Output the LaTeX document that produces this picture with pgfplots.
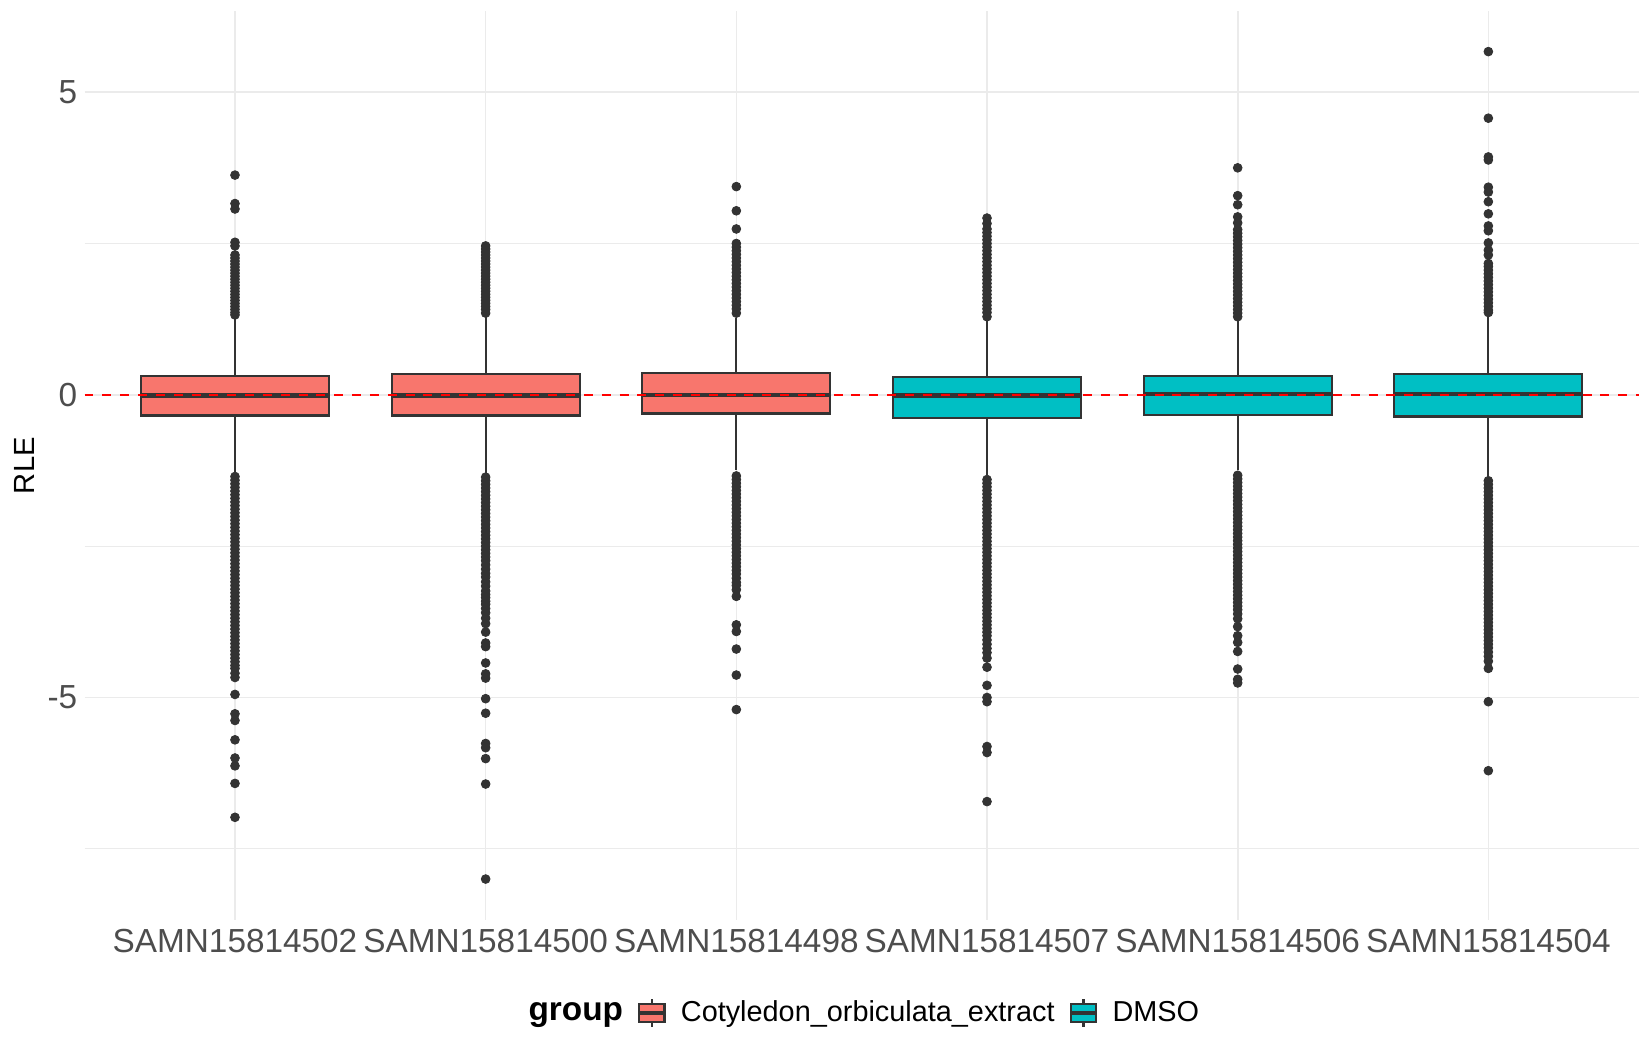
\documentclass[border=0pt]{standalone}
\usepackage{pgfplots}
\pgfplotsset{compat=1.18}
\usepgfplotslibrary{statistics}
\usepackage{fontspec}
\setmainfont{Liberation Sans}
\definecolor{cA}{HTML}{F8766D}
\definecolor{cB}{HTML}{00BFC4}
\definecolor{c33}{HTML}{333333}
\definecolor{cgrid}{HTML}{EBEBEB}
\definecolor{ctick}{HTML}{4D4D4D}
\newcommand\tickfont{\fontsize{16}{19}\selectfont}
\newcommand\legfont{\fontsize{13.85}{17}\selectfont}
\begin{document}
\begin{tikzpicture}
\begin{axis}[
  scale only axis,
  width=746pt, height=436.4pt,
  xmin=0.4, xmax=6.6, ymin=-8.68, ymax=6.34,
  axis line style={draw=none},
  major tick length=0pt, minor tick length=0pt,
  xtick={1,2,3,4,5,6},
  xticklabels={SAMN15814502,SAMN15814500,SAMN15814498,SAMN15814507,SAMN15814506,SAMN15814504},
  ytick={-5,0,5},
  yticklabels={-5,0,5},
  minor ytick={-7.5,-2.5,2.5},
  xmajorgrids, ymajorgrids, yminorgrids,
  major grid style={draw=cgrid, line width=0.8pt},
  minor grid style={draw=cgrid, line width=0.45pt},
  ticklabel style={font=\tickfont, text=ctick},
  xticklabel style={yshift=-1pt},
  ylabel={RLE},
  every axis y label/.style={at={(axis description cs:0,0.5)}, rotate=90, anchor=center, yshift=28.7pt, font=\fontsize{14}{17}\selectfont},
  boxplot/draw direction=y,
  boxplot/box extend=0.75,
  boxplot/whisker extend=0,
  boxplot/every median/.style={line width=2.14pt},
  legend columns=3,
  legend style={draw=none, fill=none, at={(0.5,0)}, anchor=center, xshift=-1.5pt, yshift=-44.5pt, font=\legfont,
    /tikz/every odd column/.append style={column sep=5.1pt},
    /tikz/every even column/.append style={column sep=4.9pt}},
  legend cell align=left,
]
% boxes
\addplot[forget plot, fill=cA, draw=c33, line width=1.07pt, solid, boxplot prepared={draw position=1, lower whisker=-1.27, lower quartile=-0.34, median=-0.01, upper quartile=0.31, upper whisker=1.28}] coordinates {};
\addplot[forget plot, fill=cA, draw=c33, line width=1.07pt, solid, boxplot prepared={draw position=2, lower whisker=-1.29, lower quartile=-0.34, median=-0.01, upper quartile=0.34, upper whisker=1.28}] coordinates {};
\addplot[forget plot, fill=cA, draw=c33, line width=1.07pt, solid, boxplot prepared={draw position=3, lower whisker=-1.25, lower quartile=-0.31, median=0.00, upper quartile=0.36, upper whisker=1.27}] coordinates {};
\addplot[forget plot, fill=cB, draw=c33, line width=1.07pt, solid, boxplot prepared={draw position=4, lower whisker=-1.32, lower quartile=-0.38, median=-0.01, upper quartile=0.30, upper whisker=1.23}] coordinates {};
\addplot[forget plot, fill=cB, draw=c33, line width=1.07pt, solid, boxplot prepared={draw position=5, lower whisker=-1.24, lower quartile=-0.33, median=0.01, upper quartile=0.31, upper whisker=1.22}] coordinates {};
\addplot[forget plot, fill=cB, draw=c33, line width=1.07pt, solid, boxplot prepared={draw position=6, lower whisker=-1.35, lower quartile=-0.36, median=0.01, upper quartile=0.35, upper whisker=1.30}] coordinates {};
% outliers
\pgfplotsset{outl/.style={forget plot, only marks, mark=*, mark size=2.1pt, draw=c33, fill=c33, mark options={fill=c33, draw=c33, line width=0.4pt}}}
\addplot[outl] coordinates {
(1,3.63)(1,3.16)(1,3.07)(1,2.52)(1,2.46)(1,2.31)(1,2.26)(1,2.21)(1,2.16)(1,2.11)(1,2.06)(1,2.01)(1,1.96)(1,1.91)(1,1.86)(1,1.81)(1,1.76)(1,1.71)(1,1.66)(1,1.61)(1,1.56)(1,1.51)(1,1.46)(1,1.41)(1,1.36)(1,1.32)
(1,-1.35)(1,-1.41)(1,-1.47)(1,-1.53)(1,-1.59)(1,-1.65)(1,-1.71)(1,-1.77)(1,-1.83)(1,-1.89)(1,-1.95)(1,-2.01)(1,-2.07)(1,-2.13)(1,-2.19)(1,-2.25)(1,-2.31)(1,-2.37)(1,-2.43)(1,-2.49)(1,-2.55)(1,-2.61)(1,-2.67)(1,-2.73)(1,-2.79)(1,-2.85)(1,-2.91)(1,-2.97)(1,-3.03)(1,-3.09)(1,-3.15)(1,-3.21)(1,-3.27)(1,-3.33)(1,-3.39)(1,-3.45)(1,-3.51)(1,-3.57)(1,-3.63)(1,-3.69)(1,-3.75)(1,-3.81)(1,-3.87)(1,-3.93)(1,-3.99)(1,-4.05)(1,-4.11)(1,-4.17)(1,-4.23)(1,-4.29)(1,-4.35)(1,-4.41)(1,-4.47)(1,-4.52)
(1,-4.60)(1,-4.67)(1,-4.95)(1,-5.27)(1,-5.38)(1,-5.70)(1,-6.00)(1,-6.13)(1,-6.42)(1,-6.98)
};
\addplot[outl] coordinates {
(2,2.46)(2,2.41)(2,2.36)(2,2.31)(2,2.26)(2,2.21)(2,2.16)(2,2.11)(2,2.06)(2,2.01)(2,1.96)(2,1.91)(2,1.86)(2,1.81)(2,1.76)(2,1.71)(2,1.66)(2,1.61)(2,1.56)(2,1.51)(2,1.46)(2,1.41)(2,1.35)
(2,-1.36)(2,-1.42)(2,-1.48)(2,-1.54)(2,-1.60)(2,-1.66)(2,-1.72)(2,-1.78)(2,-1.84)(2,-1.90)(2,-1.96)(2,-2.02)(2,-2.08)(2,-2.14)(2,-2.20)(2,-2.26)(2,-2.32)(2,-2.38)(2,-2.44)(2,-2.50)(2,-2.56)(2,-2.62)
(2,-2.68)(2,-2.74)(2,-2.81)(2,-2.88)(2,-2.95)(2,-3.01)(2,-3.09)(2,-3.16)(2,-3.24)(2,-3.30)(2,-3.35)(2,-3.41)(2,-3.46)(2,-3.53)(2,-3.60)(2,-3.69)(2,-3.78)(2,-3.92)(2,-4.10)(2,-4.16)(2,-4.43)(2,-4.61)(2,-4.68)(2,-5.02)(2,-5.26)(2,-5.76)(2,-5.83)(2,-6.01)(2,-6.43)(2,-8.00)
};
\addplot[outl] coordinates {
(3,3.44)(3,3.04)(3,2.74)(3,2.50)(3,2.44)(3,2.38)(3,2.32)(3,2.26)(3,2.20)(3,2.14)(3,2.08)(3,2.02)(3,1.96)(3,1.90)(3,1.84)(3,1.78)(3,1.72)(3,1.66)(3,1.60)(3,1.54)(3,1.48)(3,1.42)(3,1.35)
(3,-1.34)(3,-1.40)(3,-1.46)(3,-1.52)(3,-1.58)(3,-1.64)(3,-1.70)(3,-1.76)(3,-1.82)(3,-1.88)(3,-1.94)(3,-2.00)(3,-2.06)(3,-2.12)(3,-2.18)(3,-2.24)(3,-2.30)(3,-2.36)(3,-2.42)(3,-2.48)(3,-2.54)(3,-2.60)(3,-2.66)(3,-2.72)(3,-2.78)(3,-2.84)(3,-2.90)(3,-2.96)(3,-3.03)
(3,-3.10)(3,-3.15)(3,-3.22)(3,-3.33)(3,-3.80)(3,-3.91)(3,-4.20)(3,-4.63)(3,-5.20)
};
\addplot[outl] coordinates {
(4,2.92)(4,2.83)(4,2.74)(4,2.68)(4,2.62)(4,2.56)(4,2.50)(4,2.44)(4,2.38)(4,2.32)(4,2.26)(4,2.20)(4,2.14)(4,2.08)(4,2.02)(4,1.96)(4,1.90)(4,1.84)(4,1.78)(4,1.72)(4,1.66)(4,1.60)(4,1.54)(4,1.48)(4,1.42)(4,1.36)(4,1.29)
(4,-1.40)(4,-1.46)(4,-1.52)(4,-1.58)(4,-1.64)(4,-1.70)(4,-1.76)(4,-1.82)(4,-1.88)(4,-1.94)(4,-2.00)(4,-2.06)(4,-2.12)(4,-2.18)(4,-2.24)(4,-2.30)(4,-2.36)(4,-2.42)(4,-2.48)(4,-2.54)(4,-2.60)(4,-2.66)(4,-2.72)(4,-2.78)(4,-2.84)(4,-2.90)(4,-2.96)(4,-3.02)(4,-3.08)(4,-3.14)(4,-3.20)(4,-3.26)(4,-3.32)(4,-3.38)(4,-3.44)(4,-3.50)(4,-3.56)(4,-3.62)(4,-3.68)(4,-3.74)(4,-3.80)(4,-3.86)(4,-3.92)(4,-3.98)
(4,-4.05)(4,-4.12)(4,-4.19)(4,-4.26)(4,-4.35)(4,-4.50)(4,-4.80)(4,-5.00)(4,-5.07)(4,-5.81)(4,-5.91)(4,-6.72)
};
\addplot[outl] coordinates {
(5,3.75)(5,3.29)(5,3.14)(5,2.94)(5,2.84)(5,2.73)(5,2.67)(5,2.61)(5,2.55)(5,2.49)(5,2.43)(5,2.37)(5,2.31)(5,2.25)(5,2.19)(5,2.13)(5,2.07)(5,2.01)(5,1.95)(5,1.89)(5,1.83)(5,1.77)(5,1.71)(5,1.65)(5,1.59)(5,1.53)(5,1.47)(5,1.41)(5,1.35)(5,1.29)
(5,-1.33)(5,-1.39)(5,-1.45)(5,-1.51)(5,-1.57)(5,-1.63)(5,-1.69)(5,-1.75)(5,-1.81)(5,-1.87)(5,-1.93)(5,-1.99)(5,-2.05)(5,-2.11)(5,-2.17)(5,-2.23)(5,-2.29)(5,-2.35)(5,-2.41)(5,-2.47)(5,-2.53)(5,-2.59)(5,-2.65)(5,-2.71)(5,-2.77)(5,-2.83)(5,-2.89)(5,-2.95)(5,-3.01)(5,-3.07)(5,-3.13)(5,-3.19)(5,-3.25)(5,-3.31)(5,-3.37)(5,-3.43)(5,-3.49)(5,-3.55)
(5,-3.62)(5,-3.70)(5,-3.83)(5,-3.98)(5,-4.09)(5,-4.24)(5,-4.53)(5,-4.70)(5,-4.76)
};
\addplot[outl] coordinates {
(6,5.67)(6,4.57)(6,3.93)(6,3.88)(6,3.43)(6,3.35)(6,3.19)(6,2.99)(6,2.79)(6,2.71)(6,2.51)(6,2.39)(6,2.31)(6,2.17)
(6,2.12)(6,2.06)(6,2.00)(6,1.94)(6,1.88)(6,1.82)(6,1.76)(6,1.70)(6,1.64)(6,1.58)(6,1.52)(6,1.46)(6,1.40)(6,1.36)
(6,-1.42)(6,-1.48)(6,-1.54)(6,-1.60)(6,-1.66)(6,-1.72)(6,-1.78)(6,-1.84)(6,-1.90)(6,-1.96)(6,-2.02)(6,-2.08)(6,-2.14)(6,-2.20)(6,-2.26)(6,-2.32)(6,-2.38)(6,-2.44)(6,-2.50)(6,-2.56)(6,-2.62)(6,-2.68)(6,-2.74)(6,-2.80)(6,-2.86)(6,-2.92)(6,-2.98)(6,-3.04)(6,-3.10)(6,-3.16)(6,-3.22)(6,-3.28)(6,-3.34)(6,-3.40)(6,-3.46)(6,-3.52)(6,-3.58)(6,-3.64)(6,-3.70)(6,-3.76)(6,-3.82)(6,-3.88)(6,-3.94)(6,-4.00)(6,-4.06)(6,-4.12)(6,-4.18)(6,-4.25)(6,-4.32)
(6,-4.40)(6,-4.52)(6,-5.07)(6,-6.21)
};
% zero line
\addplot[forget plot, draw=red, line width=1.07pt, dash pattern=on 4.28pt off 4.28pt] coordinates {(0.4,0) (6.6,0)};
% legend
\addlegendimage{empty legend}
\addlegendentry{\fontsize{16}{19}\selectfont\bfseries group}
\addlegendimage{legend image code/.code={
  \draw[fill=cA, draw=c33, line width=1.07pt] (0pt,-4.2pt) rectangle (12.2pt,4.2pt);
  \draw[c33, line width=1.6pt] (0pt,0pt) -- (12.2pt,0pt);
  \draw[c33, line width=1.07pt] (6.1pt,4.2pt) -- (6.1pt,6.7pt) (6.1pt,-4.2pt) -- (6.1pt,-6.7pt);}}
\addlegendentry{Cotyledon\_orbiculata\_extract}
\addlegendimage{legend image code/.code={
  \draw[fill=cB, draw=c33, line width=1.07pt] (0pt,-4.2pt) rectangle (12.2pt,4.2pt);
  \draw[c33, line width=1.6pt] (0pt,0pt) -- (12.2pt,0pt);
  \draw[c33, line width=1.07pt] (6.1pt,4.2pt) -- (6.1pt,6.7pt) (6.1pt,-4.2pt) -- (6.1pt,-6.7pt);}}
\addlegendentry{DMSO}
\end{axis}
\pgfresetboundingbox
\path ([shift={(-40.6pt,-62.3pt)}]current axis.south west) rectangle ++(792pt,504pt);
\end{tikzpicture}
\end{document}
